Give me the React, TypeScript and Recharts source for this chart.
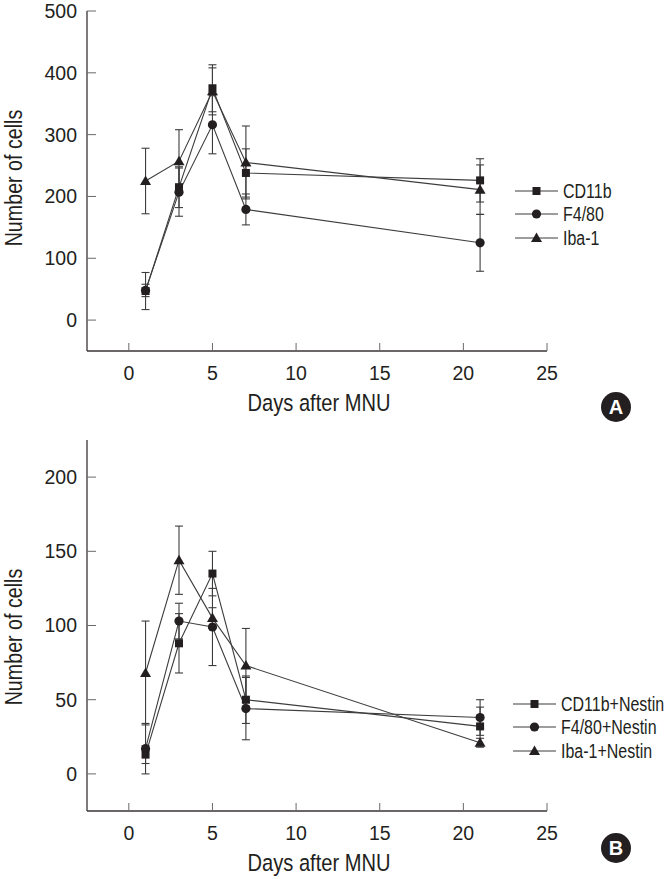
import React from 'react'
import { LineChart, Line, XAxis, YAxis, ErrorBar } from 'recharts'

const DAYS = [1, 3, 5, 7, 21]
const X_TICKS = [0, 5, 10, 15, 20, 25]

// panel A
const A_CD11B = [47, 215, 375, 238, 226]
const A_CD11B_ERR = [30, 33, 38, 39, 35]
const A_F480 = [48, 207, 316, 179, 125]
const A_F480_ERR = [10, 39, 47, 25, 46]
const A_IBA1 = [225, 257, 370, 255, 211]
const A_IBA1_ERR = [53, 51, 38, 59, 40]
const A_Y_TICKS = [0, 100, 200, 300, 400, 500]
const A_LABELS = ['CD11b', 'F4/80', 'Iba-1']

// panel B
const B_CD11B = [13, 88, 135, 50, 32]
const B_CD11B_ERR = [6, 20, 15, 16, 13]
const B_F480 = [17, 103, 99, 44, 38]
const B_F480_ERR = [17, 12, 26, 21, 12]
const B_IBA1 = [68, 144, 105, 73, 21]
const B_IBA1_ERR = [35, 23, 7, 25, 3]
const B_Y_TICKS = [0, 50, 100, 150, 200]
const B_LABELS = ['CD11b+Nestin', 'F4/80+Nestin', 'Iba-1+Nestin']

const FONT = '"Liberation Sans", Arial, sans-serif'
const INK = '#231f20'
const LINE = '#3d3d3d'
const SHAPES = ['square', 'circle', 'triangle'] as const
// the figure uses a condensed face; squeeze regular Liberation Sans instead
const SQUEEZE = 0.82

type Shape = (typeof SHAPES)[number]

function Marker({ shape, cx, cy }: { shape: Shape; cx: number; cy: number }) {
  if (shape === 'square') return <rect x={cx - 4} y={cy - 4} width={8} height={8} fill={INK} />
  if (shape === 'circle') return <circle cx={cx} cy={cy} r={4.6} fill={INK} />
  return <polygon points={`${cx},${cy - 5.5} ${cx + 5.5},${cy + 4} ${cx - 5.5},${cy + 4}`} fill={INK} />
}

const dotFor = (shape: Shape) => (props: any) => {
  const { cx, cy, index } = props
  return <Marker key={`${shape}-${index}`} shape={shape} cx={cx} cy={cy} />
}

function buildRows(a: number[], ae: number[], b: number[], be: number[], c: number[], ce: number[]) {
  return DAYS.map((day, i) => ({ day, s0: a[i], e0: ae[i], s1: b[i], e1: be[i], s2: c[i], e2: ce[i] }))
}

const rowsA = buildRows(A_CD11B, A_CD11B_ERR, A_F480, A_F480_ERR, A_IBA1, A_IBA1_ERR)
const rowsB = buildRows(B_CD11B, B_CD11B_ERR, B_F480, B_F480_ERR, B_IBA1, B_IBA1_ERR)

interface PanelProps {
  rows: any[]
  yDomain: [number, number]
  yTicks: number[]
  height: number
  marginTop: number
  xAxisHeight: number
  yTitleY: number
  xTitleY: number
  labels: string[]
  legendX: number
  legendY: number[]
  badge: string
  badgeY: number
}

function Panel(p: PanelProps) {
  return (
    <div style={{ position: 'relative', width: 668, height: p.height }}>
      <LineChart
        width={668}
        height={p.height}
        data={p.rows}
        margin={{ top: p.marginTop, right: 121, bottom: 0, left: 0 }}
      >
        <XAxis
          type="number"
          dataKey="day"
          domain={[-2.5, 25]}
          ticks={X_TICKS}
          allowDataOverflow
          height={p.xAxisHeight}
          tickSize={-8}
          tickMargin={23}
          axisLine={{ stroke: '#3b3434', strokeWidth: 1.3 }}
          tickLine={{ stroke: '#6a6a6a' }}
          tick={{ fill: INK, fontSize: 19.5, fontFamily: FONT }}
          label={({ viewBox }: any) => {
            const cx = viewBox.x + viewBox.width / 2 + 2
            return (
              <g transform={`translate(${cx}, ${p.xTitleY}) scale(${SQUEEZE}, 1)`}>
                <text x={0} y={0} textAnchor="middle" fill={INK} fontSize={24.5} fontFamily={FONT}>
                  Days after MNU
                </text>
              </g>
            )
          }}
        />
        <YAxis
          type="number"
          domain={p.yDomain}
          ticks={p.yTicks}
          allowDataOverflow
          width={87}
          tickSize={-9}
          tickMargin={19}
          axisLine={{ stroke: '#3b3434', strokeWidth: 1.3 }}
          tickLine={{ stroke: '#6a6a6a' }}
          tick={{ fill: INK, fontSize: 19.5, fontFamily: FONT }}
          label={() => (
            <g transform={`translate(13, ${p.yTitleY}) rotate(-90) scale(${SQUEEZE}, 1)`}>
              <text x={0} y={0} dy="0.36em" textAnchor="middle" fill={INK} fontSize={24} fontFamily={FONT}>
                Number of cells
              </text>
            </g>
          )}
        />
        {SHAPES.map((shape, i) => (
          <Line
            key={shape}
            type="linear"
            dataKey={`s${i}`}
            stroke={LINE}
            strokeWidth={1.1}
            dot={dotFor(shape)}
            activeDot={false}
            isAnimationActive={false}
          >
            <ErrorBar dataKey={`e${i}`} width={4} stroke={LINE} strokeWidth={1.1} direction="y" />
          </Line>
        ))}
      </LineChart>
      <svg
        width={668}
        height={p.height}
        style={{ position: 'absolute', left: 0, top: 0, pointerEvents: 'none' }}
      >
        {p.labels.map((label, i) => (
          <g key={label}>
            <line x1={p.legendX} x2={p.legendX + 43} y1={p.legendY[i]} y2={p.legendY[i]} stroke={LINE} strokeWidth={1.1} />
            <Marker shape={SHAPES[i]} cx={p.legendX + 21.5} cy={p.legendY[i]} />
            <g transform={`translate(${p.legendX + 48}, ${p.legendY[i]}) scale(${SQUEEZE}, 1)`}>
              <text x={0} y={0} dy="0.36em" fill={INK} fontSize={19.5} fontFamily={FONT}>
                {label}
              </text>
            </g>
          </g>
        ))}
        <circle cx={616} cy={p.badgeY} r={15} fill={INK} />
        <text
          x={616}
          y={p.badgeY}
          dy="0.36em"
          textAnchor="middle"
          fill="#ffffff"
          fontSize={20}
          fontWeight="bold"
          fontFamily={FONT}
        >
          {p.badge}
        </text>
      </svg>
    </div>
  )
}

export default function App() {
  return (
    <div style={{ position: 'absolute', left: 0, top: 0, width: 668, height: 879, background: '#fff' }}>
      <Panel
        rows={rowsA}
        yDomain={[-50, 500]}
        yTicks={A_Y_TICKS}
        height={440}
        marginTop={11}
        xAxisHeight={89}
        yTitleY={178}
        xTitleY={411}
        labels={A_LABELS}
        legendX={515}
        legendY={[191, 214, 238]}
        badge="A"
        badgeY={407}
      />
      <Panel
        rows={rowsB}
        yDomain={[-25, 225]}
        yTicks={B_Y_TICKS}
        height={439}
        marginTop={0}
        xAxisHeight={68}
        yTitleY={197}
        xTitleY={431}
        labels={B_LABELS}
        legendX={513}
        legendY={[264, 287, 311]}
        badge="B"
        badgeY={408}
      />
    </div>
  )
}
